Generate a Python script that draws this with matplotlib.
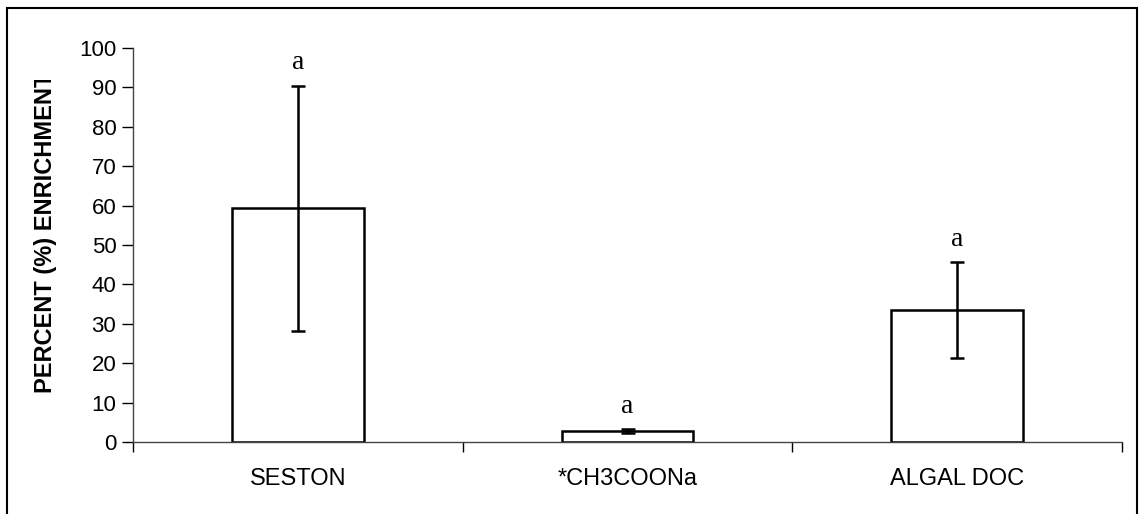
import matplotlib.pyplot as plt
from matplotlib.patches import Rectangle
from matplotlib.transforms import Bbox

# data
categories = ['SESTON', '*CH3COONa', 'ALGAL DOC']
enrichment = [59.3, 2.8, 33.4]
errors     = [31.1, 0.4, 12.2]
letters    = ['a', 'a', 'a']

W, H = 1139, 514
fig = plt.figure(figsize=(W / 100, H / 100), dpi=100)
plt.rcParams['font.family'] = ['Liberation Sans', 'DejaVu Sans']

# plot area in pixels: x 133..1122, y 48..442 (from top)
ax = fig.add_axes([133 / W, 1 - 442 / H, (1122 - 133) / W, (442 - 48) / H])

x = list(range(len(categories)))
ax.bar(x, enrichment, width=0.4, color='white', edgecolor='black', linewidth=1.8,
       yerr=errors, error_kw=dict(ecolor='black', elinewidth=1.8, capsize=5, capthick=1.8))

for xi, v, e, s in zip(x, enrichment, errors, letters):
    ax.annotate(s, (xi, v + e), xytext=(0, 16.5), textcoords='offset points',
                ha='center', va='center', fontsize=20, family='Liberation Serif')

ax.set_xlim(-0.5, 2.5)
ax.set_ylim(0, 100)
ax.set_yticks(range(0, 101, 10))
ax.set_xticks([-0.5, 0.5, 1.5, 2.5], minor=False)
ax.set_xticklabels([])
ax.set_xticks(x, minor=True)
ax.set_xticklabels(categories, minor=True)
ax.tick_params(axis='x', which='minor', length=0, pad=19, labelsize=17)
ax.tick_params(axis='x', which='major', direction='out', length=7, width=1)
ax.tick_params(axis='y', direction='out', length=8, width=1, labelsize=16, pad=4)

for side in ['top', 'right']:
    ax.spines[side].set_visible(False)
ax.spines['left'].set_linewidth(1)
ax.spines['bottom'].set_linewidth(1)
ax.spines['bottom'].set_color('#444444')
ax.spines['left'].set_color('#444444')

# y label, clipped at the top like the original
lab = fig.text(46 / W, 1 - 393 / H, 'PERCENT (%) ENRICHMENT', rotation=90,
               ha='center', va='bottom', fontsize=17, fontweight='bold')
lab.set_clip_on(True)
lab.set_clip_box(Bbox([[0, 0], [200, H - 80]]))

# outer border
fig.patches.append(Rectangle((7, -10), 1130, H - 8 + 10, transform=None,
                             fill=False, edgecolor='black', linewidth=1.5))

fig.savefig('out.png', dpi=100)
